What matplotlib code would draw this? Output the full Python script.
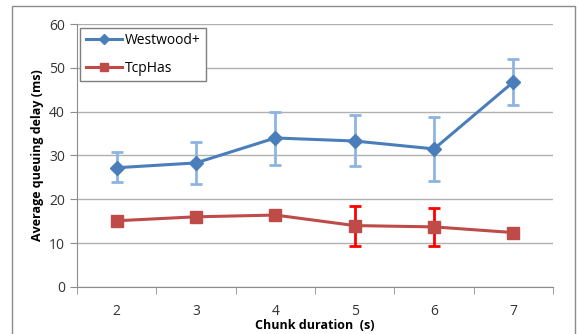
import matplotlib.pyplot as plt
from matplotlib.patches import Rectangle

chunk = [2, 3, 4, 5, 6, 7]
westwood = [27.2, 28.3, 34.0, 33.3, 31.5, 46.8]
westwood_lo = [24.0, 23.5, 27.9, 27.6, 24.2, 41.6]
westwood_hi = [30.8, 33.1, 40.0, 39.3, 38.8, 52.0]
tcphas = [15.1, 16.0, 16.4, 14.0, 13.7, 12.4]
tcphas_lo = [None, None, None, 9.4, 9.4, None]
tcphas_hi = [None, None, None, 18.4, 18.1, None]

plt.rcParams['font.family'] = ['Open Sans', 'DejaVu Sans']

fig = plt.figure(figsize=(5.78, 3.34), dpi=100)
ax = fig.add_axes([0.133, 0.141, 0.824, 0.787])

# outer chart frame
fig.patches.append(Rectangle((0.021, -0.05), 0.973, 1.032, transform=fig.transFigure,
                             fill=False, edgecolor='#8c8c8c', linewidth=1.0))

x = list(range(len(chunk)))

# westwood error bars
w_err = [[w - lo for w, lo in zip(westwood, westwood_lo)],
         [hi - w for w, hi in zip(westwood, westwood_hi)]]
ax.errorbar(x, westwood, yerr=w_err, fmt='none', ecolor='#8db4e2',
            elinewidth=2, capsize=4, capthick=2, zorder=3)
ax.plot(x, westwood, color='#4a7ebb', linewidth=2.2, marker='D', markersize=7,
        label='Westwood+', zorder=4)

# tcphas error bars (only where present)
tx, ty, tlo, thi = [], [], [], []
for i, (v, lo, hi) in enumerate(zip(tcphas, tcphas_lo, tcphas_hi)):
    if lo is not None:
        tx.append(i)
        ty.append(v)
        tlo.append(v - lo)
        thi.append(hi - v)
ax.errorbar(tx, ty, yerr=[tlo, thi], fmt='none', ecolor='#ff0000',
            elinewidth=2, capsize=4, capthick=2, zorder=3)
ax.plot(x, tcphas, color='#be4b48', linewidth=2.2, marker='s', markersize=8,
        label='TcpHas', zorder=4)

ax.set_xlim(-0.5, len(chunk) - 0.5)
ax.set_ylim(0, 60)
ax.set_yticks(range(0, 61, 10))
ax.set_xticks(x)
ax.set_xticklabels([str(c) for c in chunk])
ax.set_xticks([i - 0.5 for i in range(len(chunk) + 1)], minor=True)
ax.tick_params(axis='x', which='major', length=0, pad=12, labelsize=10, colors='#333333')
ax.tick_params(axis='x', which='minor', length=5, color='#8c8c8c')
ax.tick_params(axis='y', length=5, color='#8c8c8c', labelsize=10, labelcolor='#333333')

ax.grid(axis='y', color='#b0b0b0', linewidth=1)
ax.set_axisbelow(True)
for s in ['top', 'right']:
    ax.spines[s].set_visible(False)
for s in ['left', 'bottom']:
    ax.spines[s].set_color('#8c8c8c')

ax.set_xlabel('Chunk duration  (s)', fontweight='bold', fontsize=9, labelpad=0)
ax.set_ylabel('Average queuing delay (ms)', fontweight='bold', fontsize=9)

leg = ax.legend(loc='upper left', bbox_to_anchor=(0.0, 1.0), fontsize=10,
                fancybox=False, edgecolor='#7f7f7f', handlelength=2.6,
                handletextpad=0.2, borderaxespad=0.25, markerscale=0.75,
                borderpad=0.4, labelspacing=0.9, framealpha=1)
leg.get_frame().set_linewidth(1)

fig.savefig('out.png', dpi=100)
